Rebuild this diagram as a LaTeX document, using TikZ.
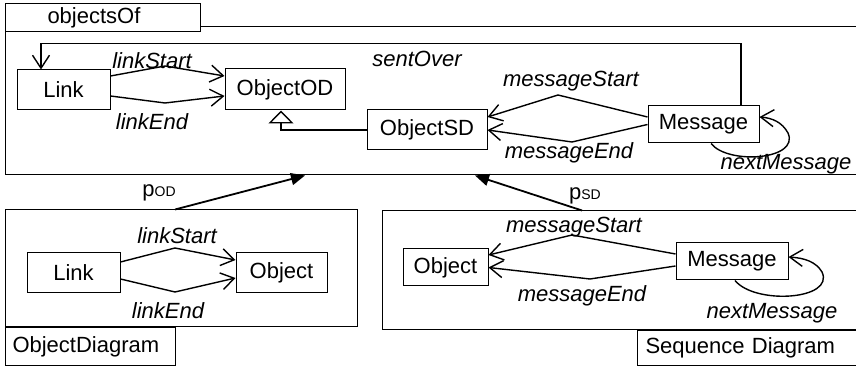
\documentclass[tikz,border=0pt]{standalone}
\usepackage{fontspec}
\setmainfont{Liberation Sans}
\usetikzlibrary{arrows.meta}

\begin{document}
\begin{tikzpicture}
  [x=0.5pt, y=-0.5pt, font=\fontsize{11}{13}\selectfont,
    cls/.style={draw, line width=0.5pt, minimum height=20pt, inner sep=0pt},
    frame/.style={draw, line width=0.5pt, inner sep=0pt},
    tab/.style={draw, line width=0.5pt, fill=white, anchor=north west,
      inner ysep=0pt, align=left},
    role/.style={font=\fontsize{11}{13}\selectfont\itshape},
    assoc/.style={line width=0.7pt, -{Straight Barb[length=6.5pt, width=8.5pt]}},
    gen/.style={line width=0.7pt, -{Triangle[open, length=6.5pt, width=12.5pt]}},
    proj/.style={line width=0.9pt, -{Triangle[length=7pt, width=6pt]}}]
  \useasboundingbox (0,0) rectangle (856,367);
  \clip (0,0) rectangle (856,367);

  % frames
  \node[frame, minimum width=432.5pt, minimum height=74pt] (objOf) at (437.5,101) {};
  \node[frame, minimum width=176pt, minimum height=58.5pt] (odFrame) at (181,268.5) {};
  \node[frame, minimum width=244pt, minimum height=59.5pt] (sdFrame) at (626,270.5) {};
  \node[tab, text width=55.5pt, inner xsep=21pt, minimum height=14pt] (tabOf) at (5,3) {objectsOf};
  \node[tab, text width=78pt, inner xsep=3.5pt, minimum height=19pt] (tabOD) at (5,327) {ObjectDiagram};
  \node[tab, text width=120pt, inner xsep=4pt, minimum height=17.5pt] (tabSD) at (637,330) {Sequence Diagram};

  % objectsOf
  \node[cls, minimum width=46.5pt] (link) at (63.5,90) {Link};
  \node[cls, minimum width=60pt, minimum height=20.5pt] (objod) at (285,89.5) {ObjectOD};
  \node[cls, minimum width=60pt] (objsd) at (427,130) {ObjectSD};
  \node[cls, minimum width=55.5pt, minimum height=18.5pt] (msg) at (703.5,124.5) {Message};

  \draw[assoc] ([yshift=7pt]link.east) -- (165,66) -- ([yshift=6.75pt]objod.west);
  \draw[assoc] ([yshift=-3pt]link.east) -- (165,103) -- ([yshift=-3.25pt]objod.west);
  \draw[gen] (objsd.west) -| ([xshift=-2pt]objod.south);
  \draw[assoc] ([yshift=3.75pt]msg.west) -- (558,95) -- ([yshift=6.5pt]objsd.east);
  \draw[assoc] (msg.west) -- (572,142) -- (objsd.east);
  \draw[assoc] ([xshift=18.75pt]msg.north) -- ++(0,-62) -| ([xshift=-11.25pt]link.north);
  \draw[assoc] ([xshift=3.75pt]msg.south) .. controls (728,165) and (800,160) .. (788,133)
    .. controls (782,122) and (772,118) .. ([yshift=3.75pt]msg.east);

  \node[role] (lsOf) at (152,61) {linkStart};
  \node[role] (leOf) at (152,122) {linkEnd};
  \node[role] (soOf) at (417,59) {sentOver};
  \node[role] (msOf) at (571,81) {messageStart};
  \node[role] (meOf) at (569,153) {messageEnd};
  \node[role] (nmOf) at (786,164) {nextMessage};

  % ObjectDiagram
  \node[cls, minimum width=46.5pt] (linkb) at (73.5,273) {Link};
  \node[cls, minimum width=45.5pt] (objb) at (281.5,273) {Object};

  \draw[assoc] ([yshift=5.5pt]linkb.east) -- (175,248) -- ([yshift=6.5pt]objb.west);
  \draw[assoc] ([yshift=-3pt]linkb.east) -- (175,292) -- ([yshift=-2.5pt]objb.west);

  \node[role] (lsOD) at (177,236) {linkStart};
  \node[role] (leOD) at (168,311) {linkEnd};

  % Sequence Diagram
  \node[cls, minimum width=42.5pt, minimum height=18.5pt] (objs) at (445.5,267.5) {Object};
  \node[cls, minimum width=56pt, minimum height=18.5pt] (msgs) at (732,261.5) {Message};

  \draw[assoc] ([yshift=3.75pt]msgs.west) -- (572,235) -- ([yshift=6.25pt]objs.east);
  \draw[assoc] ([yshift=-2.25pt]msgs.west) -- (590,279) -- (objs.east);
  \draw[assoc] ([xshift=1.5pt]msgs.south) .. controls (755,305) and (835,300) .. (822,272)
    .. controls (816,262) and (805,258) .. ([yshift=2.25pt]msgs.east);

  \node[role] (msSD) at (574,227) {messageStart};
  \node[role] (meSD) at (582,296) {messageEnd};
  \node[role] (nmSD) at (772,313) {nextMessage};

  % projections
  \draw[proj] ([xshift=-3pt]odFrame.north) -- ([xshift=-66.25pt]objOf.south);
  \draw[proj] ([xshift=-22pt]sdFrame.north) -- ([xshift=18.75pt]objOf.south);
  \node (pOD) at (159,193) {p{\fontsize{7}{8}\selectfont OD}};
  \node (pSD) at (585,196) {p{\fontsize{7}{8}\selectfont SD}};
\end{tikzpicture}
\end{document}
